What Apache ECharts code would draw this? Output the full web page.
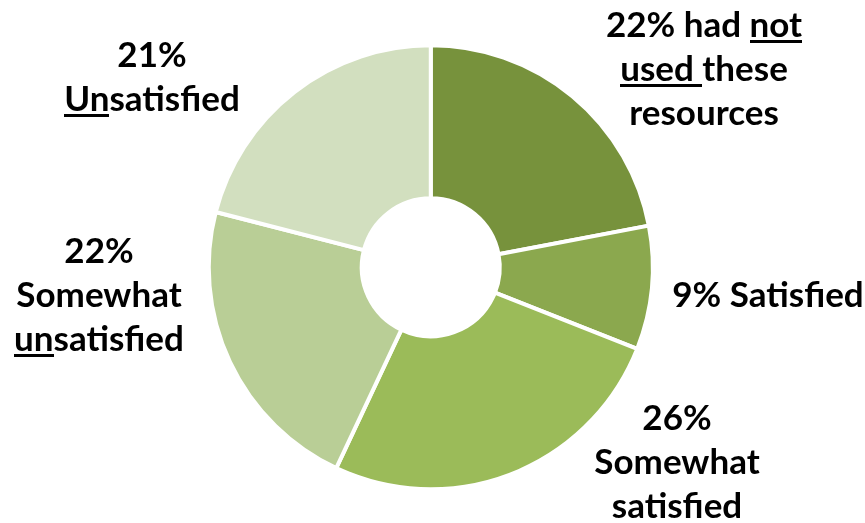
<!DOCTYPE html>
<html><head><meta charset="utf-8">
<script src="https://cdn.jsdelivr.net/npm/echarts@6/dist/echarts.min.js"></script>
<style>html,body{margin:0;padding:0;background:#fff}#c{width:865px;height:523px}</style>
</head><body><div id="c"></div>
<script>
// Data
var categories = ['Had not used these resources', 'Satisfied', 'Somewhat satisfied', 'Somewhat unsatisfied', 'Unsatisfied'];
var values = [22, 9, 26, 22, 21];
var labelTexts = [
  '{b|22% had }{u|not}\n{u|used }{b|these}\n{b|resources}',
  '{b|9% Satisfied}',
  '{b|26%}\n{b|Somewhat}\n{b|satisfied}',
  '{b|22%}\n{b|Somewhat}\n{u|un}{b|satisfied}',
  '{b|21%}\n{u|Un}{b|satisfied}'
];
var colors = ['#77923C', '#8BA84E', '#9BBB59', '#B9CE96', '#D2DFBF'];
var labelPos = [[704, 70], [768, 296], [677, 463], [99, 296], [152, 78]];

var LH = 44;
function underlineImg() {
  var cv = document.createElement('canvas');
  cv.width = 4; cv.height = LH;
  var ctx = cv.getContext('2d');
  ctx.fillStyle = '#000';
  ctx.fillRect(0, 36, 4, 3);
  return cv;
}
var font = 'Lato, "DejaVu Sans", sans-serif';
var FS = 35;
var rich = {
  b: {fontFamily: font, fontWeight: 'bold', fontSize: FS, color: '#000', lineHeight: LH},
  u: {fontFamily: font, fontWeight: 'bold', fontSize: FS, color: '#000', lineHeight: LH, height: LH,
      backgroundColor: {image: underlineImg()}}
};

var chart = echarts.init(document.getElementById('c'), null, {renderer: 'canvas'});
chart.setOption({
  animation: false,
  series: [{
    type: 'pie',
    center: ['49.8%', '51.1%'],
    radius: [69, 222],
    startAngle: 90,
    clockwise: true,
    itemStyle: {borderColor: '#fff', borderWidth: 4},
    emphasis: {disabled: true},
    label: {
      show: true, position: 'outside', align: 'center', overflow: 'none',
      formatter: function (p) { return labelTexts[p.dataIndex]; },
      rich: rich
    },
    labelLine: {show: false},
    labelLayout: function (p) {
      var pos = labelPos[p.dataIndex];
      return {x: pos[0], y: pos[1], align: 'center', verticalAlign: 'middle', width: 300};
    },
    data: categories.map(function (c, i) {
      return {name: c, value: values[i], itemStyle: {color: colors[i]}};
    })
  }]
});
</script></body></html>
